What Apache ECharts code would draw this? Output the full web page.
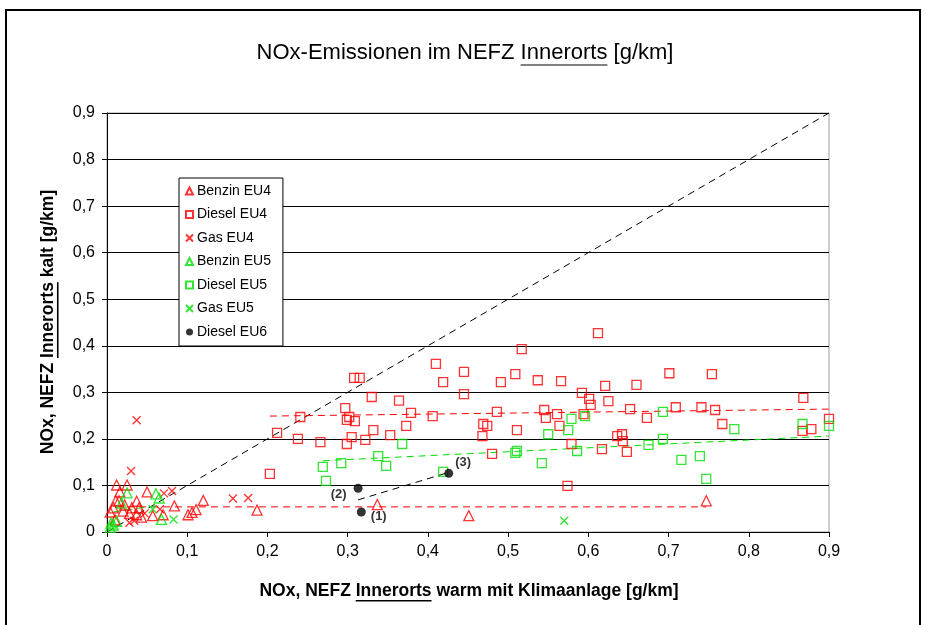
<!DOCTYPE html>
<html>
<head>
<meta charset="utf-8">
<script src="https://cdn.jsdelivr.net/npm/echarts@6/dist/echarts.min.js"></script>
<style>
  html, body { margin: 0; padding: 0; background: #fff; }
  #chart { width: 926px; height: 625px; }
</style>
</head>
<body>
<div id="chart"></div>
<script>
// x = NOx warm mit Klimaanlage, y = NOx kalt  [g/km]
const benzinEU4 = [
  [0.012, 0.101], [0.025, 0.101], [0.016, 0.086], [0.050, 0.086], [0.011, 0.067],
  [0.015, 0.067], [0.037, 0.066], [0.008, 0.052], [0.022, 0.058], [0.031, 0.052],
  [0.040, 0.052], [0.020, 0.045], [0.004, 0.043], [0.037, 0.037], [0.043, 0.032],
  [0.057, 0.035], [0.070, 0.037], [0.010, 0.026], [0.028, 0.040], [0.084, 0.056],
  [0.120, 0.068], [0.111, 0.048], [0.106, 0.042], [0.101, 0.037], [0.187, 0.047],
  [0.337, 0.059], [0.451, 0.035], [0.747, 0.067]
];
const dieselEU4 = [
  [0.410, 0.361], [0.419, 0.322], [0.308, 0.331], [0.315, 0.331], [0.330, 0.290],
  [0.364, 0.282], [0.379, 0.256], [0.406, 0.249], [0.297, 0.266], [0.302, 0.247],
  [0.299, 0.241], [0.309, 0.238], [0.241, 0.247], [0.212, 0.213], [0.332, 0.219],
  [0.373, 0.228], [0.238, 0.200], [0.266, 0.193], [0.305, 0.204], [0.299, 0.189],
  [0.322, 0.198], [0.353, 0.208], [0.203, 0.125], [0.612, 0.427], [0.517, 0.393],
  [0.445, 0.344], [0.509, 0.339], [0.491, 0.322], [0.537, 0.326], [0.566, 0.324],
  [0.445, 0.296], [0.592, 0.299], [0.621, 0.314], [0.660, 0.316], [0.601, 0.286],
  [0.603, 0.273], [0.625, 0.281], [0.652, 0.264], [0.486, 0.258], [0.545, 0.262],
  [0.561, 0.253], [0.547, 0.245], [0.594, 0.253], [0.469, 0.232], [0.474, 0.228],
  [0.511, 0.219], [0.564, 0.228], [0.468, 0.206], [0.636, 0.206], [0.642, 0.210],
  [0.643, 0.195], [0.579, 0.189], [0.617, 0.178], [0.648, 0.172], [0.480, 0.168],
  [0.574, 0.099], [0.701, 0.341], [0.754, 0.339], [0.673, 0.245], [0.709, 0.268],
  [0.741, 0.268], [0.758, 0.262], [0.767, 0.232], [0.868, 0.288], [0.867, 0.217],
  [0.878, 0.221], [0.900, 0.243]
];
const gasEU4 = [
  [0.037, 0.240], [0.030, 0.131], [0.071, 0.083], [0.081, 0.088], [0.157, 0.072],
  [0.176, 0.073], [0.047, 0.040], [0.066, 0.049], [0.028, 0.020], [0.034, 0.024]
];
const benzinEU5 = [
  [0.025, 0.084], [0.018, 0.062], [0.061, 0.082], [0.065, 0.073], [0.068, 0.027],
  [0.005, 0.019], [0.012, 0.023], [0.004, 0.010], [0.008, 0.015]
];
const dieselEU5 = [
  [0.368, 0.189], [0.338, 0.163], [0.348, 0.142], [0.292, 0.148], [0.269, 0.140],
  [0.273, 0.110], [0.419, 0.129], [0.579, 0.243], [0.596, 0.249], [0.575, 0.219],
  [0.550, 0.210], [0.586, 0.174], [0.511, 0.174], [0.509, 0.170], [0.542, 0.148],
  [0.693, 0.258], [0.782, 0.221], [0.693, 0.200], [0.675, 0.187], [0.716, 0.155],
  [0.739, 0.163], [0.747, 0.114], [0.867, 0.232], [0.900, 0.228]
];
const gasEU5 = [[0.057, 0.049], [0.083, 0.027], [0.570, 0.024]];
const dieselEU6 = [[0.317, 0.043], [0.313, 0.094], [0.426, 0.126]];
const eu6Labels = ['(1)', '(2)', '(3)'];

// trend lines
const diagLine = [[0, 0], [0.9, 0.9]];
const trendDieselEU4 = [[0.203, 0.249], [0.900, 0.264]];
const trendDieselEU5 = [[0.269, 0.153], [0.900, 0.206]];
const trendBenzinEU4 = [[0.010, 0.054], [0.747, 0.054]];
const trendBenzinEU5 = [[0.008, 0.043], [0.060, 0.056]];
const trendDieselEU6 = [[0.313, 0.069], [0.424, 0.127]];

const seriesNames = ['Benzin EU4', 'Diesel EU4', 'Gas EU4', 'Benzin EU5', 'Diesel EU5', 'Gas EU5', 'Diesel EU6'];

const RED = '#ff0000';
const GREEN = '#00e000';
const FONT = '"Liberation Sans", Arial, sans-serif';
const crossPath = 'path://M0,0L10,10M0,10L10,0';

const fmt = v => v === 0 ? '0' : v.toFixed(1).replace('.', ',');

// text measuring for the underlines
const mctx = document.createElement('canvas').getContext('2d');
function tw(str, font) { mctx.font = font; return mctx.measureText(str).width; }

function underlined(pre, u, post, cx, cy, size, weight, vertical) {
  const font = weight + ' ' + size + 'px ' + FONT;
  const wPre = tw(pre, font), wU = tw(u, font), total = tw(pre + u + post, font);
  const off = size * 0.5 + 1;
  const els = [{
    type: 'text', x: cx, y: cy, rotation: vertical ? Math.PI / 2 : 0,
    style: { text: pre + u + post, font: font, fill: '#000', align: 'center', verticalAlign: 'middle' }
  }];
  let shape;
  if (!vertical) {
    const x0 = cx - total / 2 + wPre;
    shape = { x1: x0, y1: cy + off, x2: x0 + wU, y2: cy + off };
  } else {
    const y0 = cy + total / 2 - wPre;
    shape = { x1: cx + off, y1: y0, x2: cx + off, y2: y0 - wU };
  }
  els.push({ type: 'line', shape: shape, style: { stroke: '#000', lineWidth: weight === 'bold' ? 1.6 : 1 } });
  return els;
}

function scatter(name, data, symbol, color, size, filled) {
  return {
    name: name, type: 'scatter', data: data, symbol: symbol, symbolSize: size,
    itemStyle: {
      color: filled ? color : 'rgba(255,255,255,0)',
      borderColor: color, borderWidth: filled ? 0 : 1.3
    },
    emphasis: { disabled: true }, z: 3
  };
}

function trend(data, color) {
  return {
    type: 'line', data: data, symbol: 'none', silent: true, z: 2,
    lineStyle: { color: color, width: 1, type: [7, 5] }
  };
}

const chart = echarts.init(document.getElementById('chart'));

const eu6 = scatter('Diesel EU6', dieselEU6.map(d => ({ value: d })), 'circle', '#000', 9, true);
const labelPos = [
  { position: 'right', offset: [0, 4] },
  { position: 'left', offset: [-2, 6] },
  { position: 'right', offset: [-3, -11] }
];
eu6.data.forEach((d, i) => {
  d.label = Object.assign({
    show: true, formatter: eu6Labels[i], fontFamily: FONT, fontWeight: 'bold', fontSize: 13, color: '#000'
  }, labelPos[i]);
});

const option = {
  animation: false,
  backgroundColor: '#fff',
  textStyle: { fontFamily: FONT },
  grid: {
    left: 107, right: 97, top: 113, bottom: 93,
    show: true, borderColor: '#a0a0a0', borderWidth: 1, backgroundColor: '#fff'
  },
  legend: {
    data: seriesNames,
    orient: 'vertical', left: 179, top: 178,
    padding: [5, 12, 6, 6],
    itemGap: 7.5, itemWidth: 7, itemHeight: 7,
    backgroundColor: '#fff', borderColor: '#000', borderWidth: 1, borderRadius: 0,
    selectedMode: false,
    textStyle: { fontFamily: FONT, fontSize: 14, color: '#000', lineHeight: 16, padding: [0, 0, 0, -1] }
  },
  xAxis: {
    type: 'value', min: 0, max: 0.9, interval: 0.1,
    axisLine: { lineStyle: { color: '#000', width: 1 } },
    axisTick: { show: true, length: 5, lineStyle: { color: '#000' } },
    axisLabel: { formatter: fmt, fontFamily: FONT, fontSize: 16, color: '#000', margin: 12 },
    splitLine: { show: false }
  },
  yAxis: {
    type: 'value', min: 0, max: 0.9, interval: 0.1,
    axisLine: { show: true, lineStyle: { color: '#000', width: 1 } },
    axisTick: { show: true, length: 5, lineStyle: { color: '#000' } },
    axisLabel: { formatter: fmt, fontFamily: FONT, fontSize: 16, color: '#000', margin: 12 },
    splitLine: { show: true, lineStyle: { color: '#000', width: 1 } }
  },
  graphic: [
    { type: 'rect', shape: { x: 6, y: 10, width: 914, height: 700 }, style: { fill: 'none', stroke: '#000', lineWidth: 2 }, z: 100 }
  ].concat(
    underlined('NOx-Emissionen im NEFZ ', 'Innerorts', ' [g/km]', 465, 53, 22, 'normal', false),
    underlined('NOx, NEFZ ', 'Innerorts', ' warm mit Klimaanlage [g/km]', 469, 591, 17.5, 'bold', false),
    underlined('NOx, NEFZ ', 'Innerorts', ' kalt [g/km]', 48, 322, 17.5, 'bold', true)
  ),
  series: [
    trend(diagLine, '#000'),
    trend(trendDieselEU4, RED),
    trend(trendDieselEU5, GREEN),
    trend(trendBenzinEU4, RED),
    trend(trendBenzinEU5, GREEN),
    trend(trendDieselEU6, '#000'),
    scatter('Benzin EU4', benzinEU4, 'triangle', RED, 10, false),
    scatter('Diesel EU4', dieselEU4, 'rect', RED, 9, false),
    scatter('Gas EU4', gasEU4, crossPath, RED, 8, false),
    scatter('Benzin EU5', benzinEU5, 'triangle', GREEN, 10, false),
    scatter('Diesel EU5', dieselEU5, 'rect', GREEN, 9, false),
    scatter('Gas EU5', gasEU5, crossPath, GREEN, 8, false),
    eu6
  ]
};
chart.setOption(option);
</script>
</body>
</html>
